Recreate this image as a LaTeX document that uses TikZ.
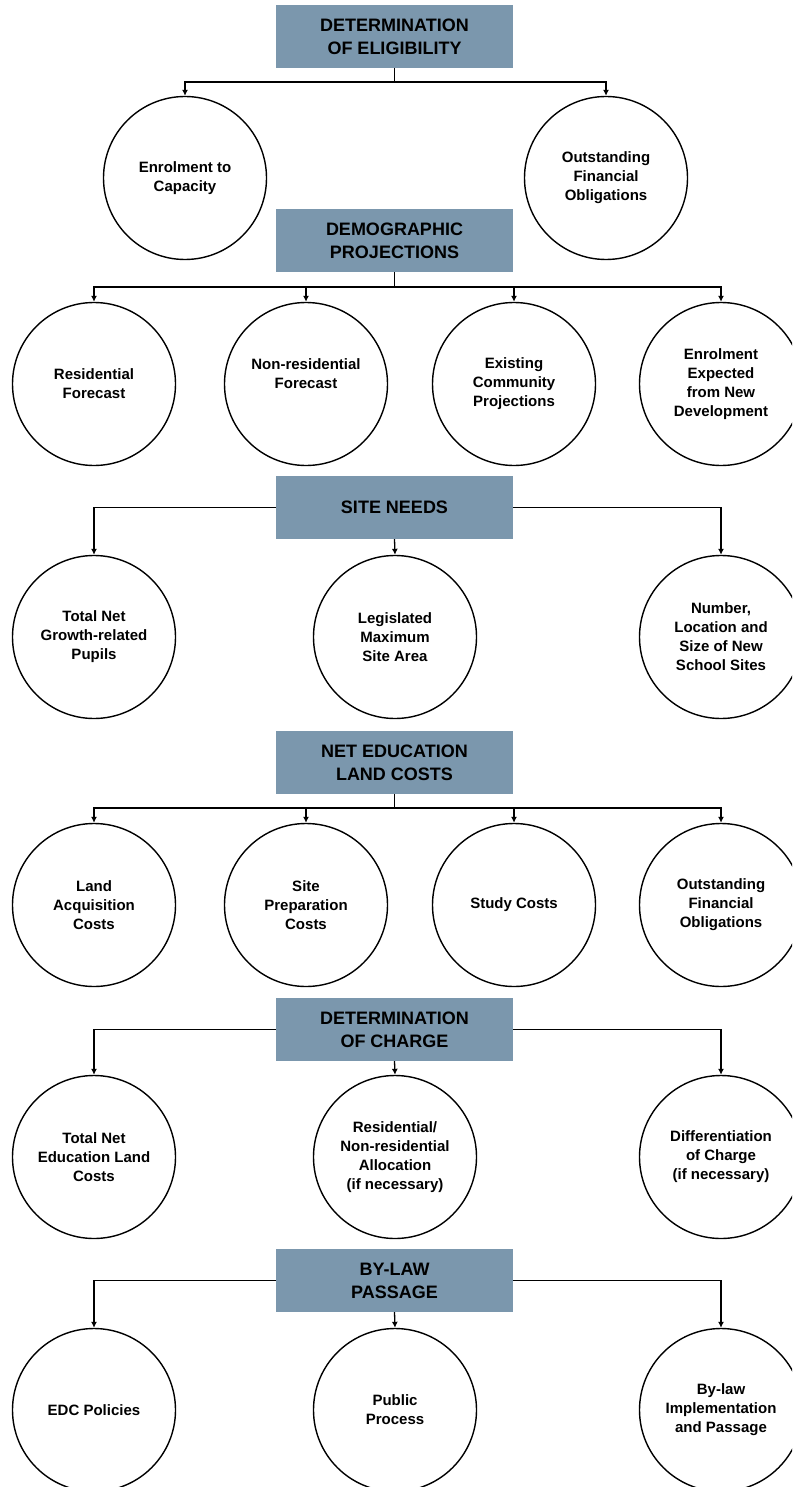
\documentclass[tikz,border=0pt]{standalone}
\usepackage{fontspec}
\setmainfont{Liberation Sans}
\usetikzlibrary{arrows.meta}
\definecolor{boxblue}{RGB}{123,151,173}
\tikzset{
  hbox/.style={rectangle, fill=boxblue, minimum width=237pt, minimum height=63pt, inner sep=0pt,
    align=center, font=\bfseries\fontsize{18}{23}\selectfont},
  bubble/.style={circle, draw, line width=1.4pt, minimum size=163pt, inner sep=0pt,
    align=center, font=\bfseries\fontsize{15}{19}\selectfont},
  link/.style={line width=1.3pt},
  arr/.style={line width=1.3pt, -{Latex[length=6pt,width=6pt]}}
}
\begin{document}
\begin{tikzpicture}[x=1pt,y=-1pt]
\useasboundingbox (0,0) rectangle (792,1487);
\clip (0,0) rectangle (792,1487);
% ---- row 1
\node[hbox] (b1) at (394.5,36.5) {DETERMINATION\\OF ELIGIBILITY};
\node[bubble] (c11) at (185,178) {Enrolment to\\Capacity};
\node[bubble] (c12) at (606,178) {Outstanding\\Financial\\Obligations};
\coordinate (j1) at (394.5,82);
\draw[link] (b1.south) -- (j1);
\draw[arr] (j1) -| (c11.north);
\draw[arr] (j1) -| (c12.north);
% ---- row 2
\node[hbox] (b2) at (394.5,240.5) {DEMOGRAPHIC\\PROJECTIONS};
\node[bubble] (c21) at (94,384) {Residential\\Forecast};
\node[bubble] (c22) at (306,384) {Non-residential\\Forecast\\[2pt]};
\node[bubble] (c23) at (514,384) {Existing\\Community\\Projections};
\node[bubble] (c24) at (721,384) {Enrolment\\Expected\\from New\\Development};
\coordinate (j2) at (394.5,287);
\draw[link] (b2.south) -- (j2);
\foreach \c in {c21,c22,c23,c24} \draw[arr] (j2) -| (\c.north);
% ---- row 3
\node[hbox] (b3) at (394.5,507.5) {SITE NEEDS};
\node[bubble] (c31) at (94,637) {Total Net\\Growth-related\\Pupils};
\node[bubble] (c32) at (395,637) {Legislated\\Maximum\\Site Area};
\node[bubble] (c33) at (721,637) {Number,\\Location and\\Size of New\\School Sites};
\draw[arr] (b3.west) -| (c31.north);
\draw[arr] (b3.east) -| (c33.north);
\draw[arr] (b3.south) -- (c32.north);
% ---- row 4
\node[hbox] (b4) at (394.5,762.5) {NET EDUCATION\\LAND COSTS};
\node[bubble] (c41) at (94,905) {Land\\Acquisition\\Costs};
\node[bubble] (c42) at (306,905) {Site\\Preparation\\Costs};
\node[bubble] (c43) at (514,905) {Study Costs};
\node[bubble] (c44) at (721,905) {Outstanding\\Financial\\Obligations};
\coordinate (j4) at (394.5,808);
\draw[link] (b4.south) -- (j4);
\foreach \c in {c41,c42,c43,c44} \draw[arr] (j4) -| (\c.north);
% ---- row 5
\node[hbox] (b5) at (394.5,1029.5) {DETERMINATION\\OF CHARGE};
\node[bubble] (c51) at (94,1157) {Total Net\\Education Land\\Costs};
\node[bubble] (c52) at (395,1157) {Residential/\\Non-residential\\Allocation\\(if necessary)};
\node[bubble] (c53) at (721,1157) {Differentiation\\of Charge\\(if necessary)};
\draw[arr] (b5.west) -| (c51.north);
\draw[arr] (b5.east) -| (c53.north);
\draw[arr] (b5.south) -- (c52.north);
% ---- row 6
\node[hbox] (b6) at (394.5,1280.5) {BY-LAW\\PASSAGE};
\node[bubble] (c61) at (94,1410) {EDC Policies};
\node[bubble] (c62) at (395,1410) {Public\\Process};
\node[bubble] (c63) at (721,1410) {By-law\\Implementation\\and Passage};
\draw[arr] (b6.west) -| (c61.north);
\draw[arr] (b6.east) -| (c63.north);
\draw[arr] (b6.south) -- (c62.north);
\end{tikzpicture}
\end{document}
